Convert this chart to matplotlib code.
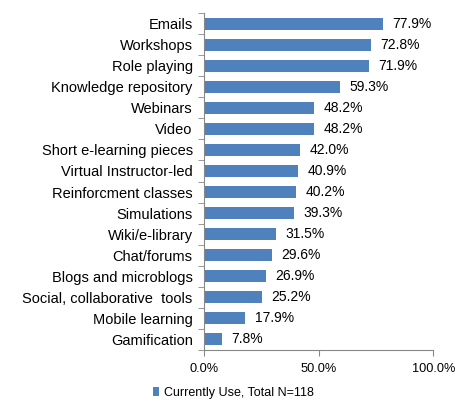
import matplotlib.pyplot as plt
from matplotlib.patches import Patch

# data
categories = ["Emails", "Workshops", "Role playing", "Knowledge repository",
              "Webinars", "Video", "Short e-learning pieces",
              "Virtual Instructor-led", "Reinforcment classes", "Simulations",
              "Wiki/e-library", "Chat/forums", "Blogs and microblogs",
              "Social, collaborative  tools", "Mobile learning", "Gamification"]
values = [77.9, 72.8, 71.9, 59.3, 48.2, 48.2, 42.0, 40.9, 40.2, 39.3,
          31.5, 29.6, 26.9, 25.2, 17.9, 7.8]
xticks = [0, 50, 100]
series_name = "Currently Use, Total N=118"

bar_color = "#4F81BD"
axis_color = "#888888"
plt.rcParams['font.family'] = ['Liberation Sans', 'DejaVu Sans']

fig = plt.figure(figsize=(4.56, 4.07), dpi=100)
ax = fig.add_axes([0.447, 0.14, 0.503, 0.828])

ypos = list(range(len(categories)))[::-1]
ax.barh(ypos, values, height=0.57, color=bar_color)
for y, v in zip(ypos, values):
    ax.annotate(f"{v:.1f}%", (v, y), xytext=(7, 0), textcoords="offset points",
                va="center", ha="left", fontsize=10)

ax.set_xlim(0, 100)
ax.set_ylim(-0.5, len(categories) - 0.5)
ax.set_xticks(xticks)
ax.set_xticklabels([f"{t:.1f}%" for t in xticks], fontsize=9.2)
ax.set_yticks(ypos)
ax.set_yticklabels(categories, fontsize=10.5)
# tick marks between categories like Excel
ax.set_yticks([y - 0.5 for y in range(len(categories) + 1)], minor=True)
ax.tick_params(axis="y", which="major", length=0, pad=8)
ax.tick_params(axis="y", which="minor", length=4, color=axis_color)
ax.tick_params(axis="x", length=4, color=axis_color, pad=5)

for s in ["top", "right"]:
    ax.spines[s].set_visible(False)
for s in ["left", "bottom"]:
    ax.spines[s].set_color(axis_color)

handle = Patch(facecolor=bar_color, edgecolor="none")
fig.legend([handle], [series_name], loc="center left",
           bbox_to_anchor=(0.31, 0.035), frameon=False, fontsize=9,
           handlelength=0.5, handleheight=0.7, handletextpad=0.4)

fig.savefig("out.png", dpi=100)
